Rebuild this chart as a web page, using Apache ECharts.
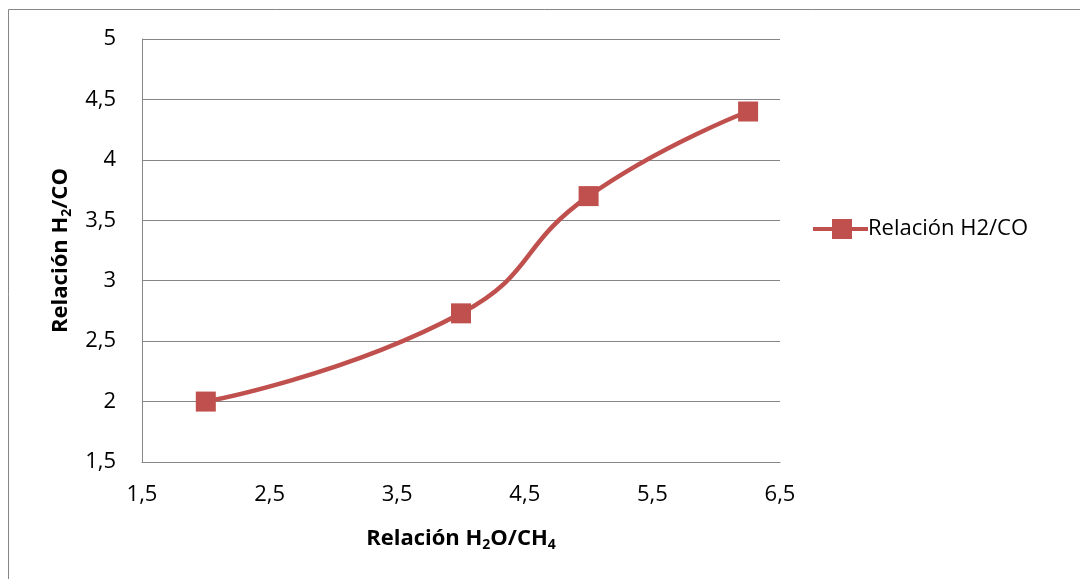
<!DOCTYPE html>
<html>
<head>
<meta charset="utf-8">
<script src="https://cdn.jsdelivr.net/npm/echarts@6/dist/echarts.min.js"></script>
<style>
  html, body { margin: 0; padding: 0; background: #fff; }
  #chart { width: 1080px; height: 579px; }
</style>
</head>
<body>
<div id="chart"></div>
<script>
// H2O/CH4 feed ratio vs. resulting H2/CO ratio
const ratioH2O_CH4 = [2, 4, 5, 6.25];
const ratioH2_CO = [2.0, 2.73, 3.7, 4.4];
const seriesName = 'Relación H2/CO';

const FONT = '"Open Sans", "Liberation Sans", sans-serif';
const comma = v => String(v).replace('.', ',');

const chart = echarts.init(document.getElementById('chart'), null, { renderer: 'canvas' });

const titleRich = {
  b: { fontFamily: FONT, fontSize: 22, fontWeight: 'bold', color: '#000', lineHeight: 26 },
  s: { fontFamily: FONT, fontSize: 14, fontWeight: 'bold', color: '#000', lineHeight: 26, verticalAlign: 'bottom', padding: [11, 0, 0, 0] }
};

// legend glyph: short line with a square marker on it
const legendIcon = 'path://M0,8 L55,8 L55,12 L0,12 Z M19,0 L39,0 L39,20 L19,20 Z';

chart.setOption({
  animation: false,
  backgroundColor: '#fff',
  graphic: [{
    type: 'rect',
    shape: { x: 8.5, y: 9.5, width: 1100, height: 600 },
    style: { fill: 'none', stroke: '#868686', lineWidth: 1 },
    silent: true
  }],
  grid: { left: 142, top: 39, right: 300, bottom: 117 },
  legend: {
    left: 808,
    top: 213,
    icon: legendIcon,
    itemWidth: 55,
    itemHeight: 20,
    itemGap: 0,
    textStyle: { fontFamily: FONT, fontSize: 22, color: '#000', padding: [0, 0, 0, -5] },
    data: [seriesName]
  },
  xAxis: {
    type: 'value',
    min: 1.5,
    max: 6.5,
    interval: 1,
    name: '{b|Relación H}{s|2}{b|O/CH}{s|4}',
    nameLocation: 'middle',
    nameGap: 64,
    nameTextStyle: { rich: titleRich },
    axisLine: { show: true, lineStyle: { color: '#868686', width: 1 } },
    axisTick: { show: false },
    splitLine: { show: false },
    axisLabel: { fontFamily: FONT, fontSize: 22, color: '#000', margin: 22, formatter: comma }
  },
  yAxis: {
    type: 'value',
    min: 1.5,
    max: 5,
    interval: 0.5,
    name: '{b|Relación H}{s|2}{b|/CO}',
    nameLocation: 'middle',
    nameGap: 68,
    nameTextStyle: { rich: titleRich },
    axisLine: { show: true, lineStyle: { color: '#868686', width: 1 } },
    axisTick: { show: false },
    splitLine: { show: true, lineStyle: { color: '#868686', width: 1 } },
    axisLabel: { fontFamily: FONT, fontSize: 22, color: '#000', margin: 26, formatter: comma }
  },
  series: [{
    name: seriesName,
    type: 'line',
    data: ratioH2O_CH4.map((x, i) => [x, ratioH2_CO[i]]),
    smooth: 0.5,
    symbol: 'rect',
    symbolSize: 20,
    lineStyle: { color: '#C0504D', width: 4.5 },
    itemStyle: { color: '#C0504D', borderWidth: 0 }
  }]
});
</script>
</body>
</html>
